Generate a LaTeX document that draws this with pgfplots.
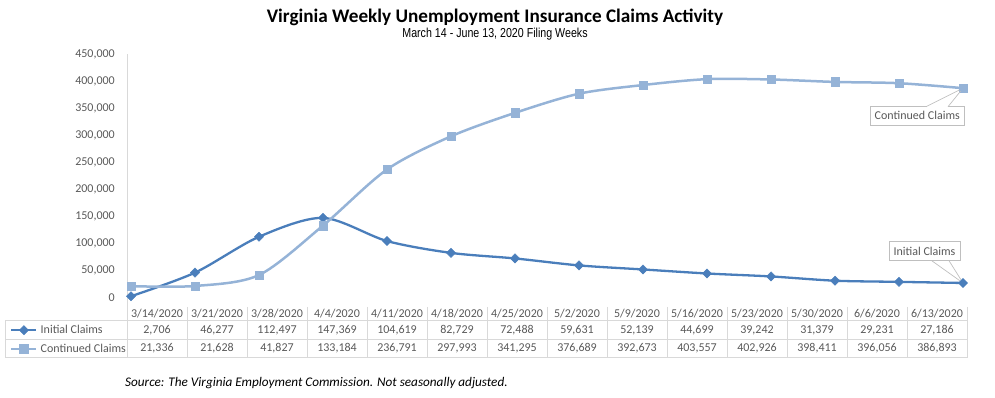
\documentclass[border=0pt]{standalone}
\usepackage{pgfplots}
\pgfplotsset{compat=1.18}
\usepackage{pgfplotstable}
\usepackage{fontspec}
\setmainfont{Carlito}
\newfontfamily\narrow[FakeStretch=0.82]{Liberation Sans}
\definecolor{icol}{HTML}{4A7EBB}
\definecolor{ccol}{HTML}{95B3D7}
\definecolor{tg}{HTML}{595959}
\definecolor{bd}{HTML}{D9D9D9}
\definecolor{cb}{HTML}{BFBFBF}

\pgfplotstableread{
x ic cc
0 2706 21336
1 46277 21628
2 112497 41827
3 147369 133184
4 104619 236791
5 82729 297993
6 72488 341295
7 59631 376689
8 52139 392673
9 44699 403557
10 39242 402926
11 31379 398411
12 29231 396056
13 27186 386893
}\data

\begin{document}
\begin{tikzpicture}[x=1pt,y=1pt]
\path[use as bounding box] (0,0) rectangle (995,398);
\begin{axis}[
  at={(127pt,100.3pt)}, anchor=south west,
  scale only axis, width=840pt, height=243.7pt,
  xmin=-0.0625, xmax=13.0625, ymin=0, ymax=450000,
  clip=false,
  axis x line=none, axis y line*=left,
  axis line style={draw=bd, line width=0.8pt, -},
  xtick=\empty,
  ytick={0,50000,100000,150000,200000,250000,300000,350000,400000,450000},
  yticklabels={0,{50,000},{100,000},{150,000},{200,000},{250,000},{300,000},{350,000},{400,000},{450,000}},
  major tick length=0pt,
  scaled y ticks=false,
  yticklabel style={font=\fontsize{12}{14}\selectfont, text=tg, inner sep=0pt, anchor=east, xshift=-12pt},
  legend style={at={(-0.13929,-0.09438)}, anchor=north west, draw=none, fill=none,
    font=\fontsize{12}{14}\selectfont, text=tg, inner sep=0pt, row sep=0pt,
    /tikz/every odd column/.style={column sep=3pt},
    nodes={inner sep=0pt, minimum height=18.6pt}},
  legend cell align=left,
  legend image code/.code={\draw[mark repeat=2,mark phase=2,#1] plot coordinates {(0pt,0pt) (12.5pt,0pt) (25pt,0pt)};},
]
\addplot[icol, line width=2.3pt, smooth, mark=diamond*, mark size=4.6pt, mark options={xscale=1.33, line width=0.5pt}] table[x=x,y=ic] {\data};
\addlegendentry{Initial Claims}
\addplot[ccol, line width=2.5pt, smooth, mark=square*, mark size=4.2pt, mark options={line width=0.5pt}] table[x=x,y=cc] {\data};
\addlegendentry{Continued Claims}
\coordinate (ctip) at (axis cs:13,386893);
\coordinate (itip) at (axis cs:13,27186);
\end{axis}

% y axis line continuation to table
\draw[bd, line width=0.8pt] (127,100.3) -- (127,91);

% data table
\begin{scope}[bd, line width=0.8pt]
\draw (5,77.3) -- (967,77.3);
\draw (5,59) -- (967,59);
\draw (5,40.3) -- (967,40.3);
\draw (5,77.3) -- (5,40.3);
\foreach \k in {0,...,14} { \draw (127+60*\k,91) -- (127+60*\k,40.3); }
\end{scope}
\begin{scope}[every node/.style={font=\fontsize{12}{14}\selectfont, text=tg, inner sep=0pt}]
\foreach \d [count=\i from 0] in {3/14/2020,3/21/2020,3/28/2020,4/4/2020,4/11/2020,4/18/2020,4/25/2020,5/2/2020,5/9/2020,5/16/2020,5/23/2020,5/30/2020,6/6/2020,6/13/2020}
  { \node at (157+60*\i,84.2) {\d}; }
\foreach \v [count=\i from 0] in {2{,}706,46{,}277,112{,}497,147{,}369,104{,}619,82{,}729,72{,}488,59{,}631,52{,}139,44{,}699,39{,}242,31{,}379,29{,}231,27{,}186}
  { \node at (157+60*\i,68) {\v}; }
\foreach \v [count=\i from 0] in {21{,}336,21{,}628,41{,}827,133{,}184,236{,}791,297{,}993,341{,}295,376{,}689,392{,}673,403{,}557,402{,}926,398{,}411,396{,}056,386{,}893}
  { \node at (157+60*\i,49.6) {\v}; }
\end{scope}

% callouts
\node[draw=cb, line width=0.7pt, fill=white, text=tg, font=\fontsize{12}{14}\selectfont, inner sep=0pt, minimum width=93.3pt, minimum height=18.3pt] at (917.3,282.2) {Continued Claims};
\fill[white] (926.5,291.3) rectangle (947.5,292);
\draw[cb, line width=0.7pt, shorten >=4pt] (926,291.3) -- (ctip);
\draw[cb, line width=0.7pt, shorten >=4pt] (948,291.3) -- (ctip);

\node[draw=cb, line width=0.7pt, fill=white, text=tg, font=\fontsize{12}{14}\selectfont, inner sep=0pt, minimum width=71pt, minimum height=19pt] at (924.5,146.8) {Initial Claims};
\fill[white] (932.2,136.6) rectangle (948.5,137.3);
\draw[cb, line width=0.7pt, shorten >=4pt] (931.7,137.3) -- (itip);
\draw[cb, line width=0.7pt, shorten >=4pt] (949,137.3) -- (itip);

% titles
\node[font=\bfseries\fontsize{19.2}{21}\selectfont, inner sep=0pt] at (495,380.5) {Virginia Weekly Unemployment Insurance Claims Activity};
\node[font=\narrow\fontsize{13}{15}\selectfont, inner sep=0pt] at (495,364) {March 14 - June 13, 2020 Filing Weeks};
\node[font=\itshape\fontsize{13.2}{15}\selectfont, text=black, inner sep=0pt, anchor=west] at (125,15) {Source: The Virginia Employment Commission. Not seasonally adjusted.};
\end{tikzpicture}
\end{document}
